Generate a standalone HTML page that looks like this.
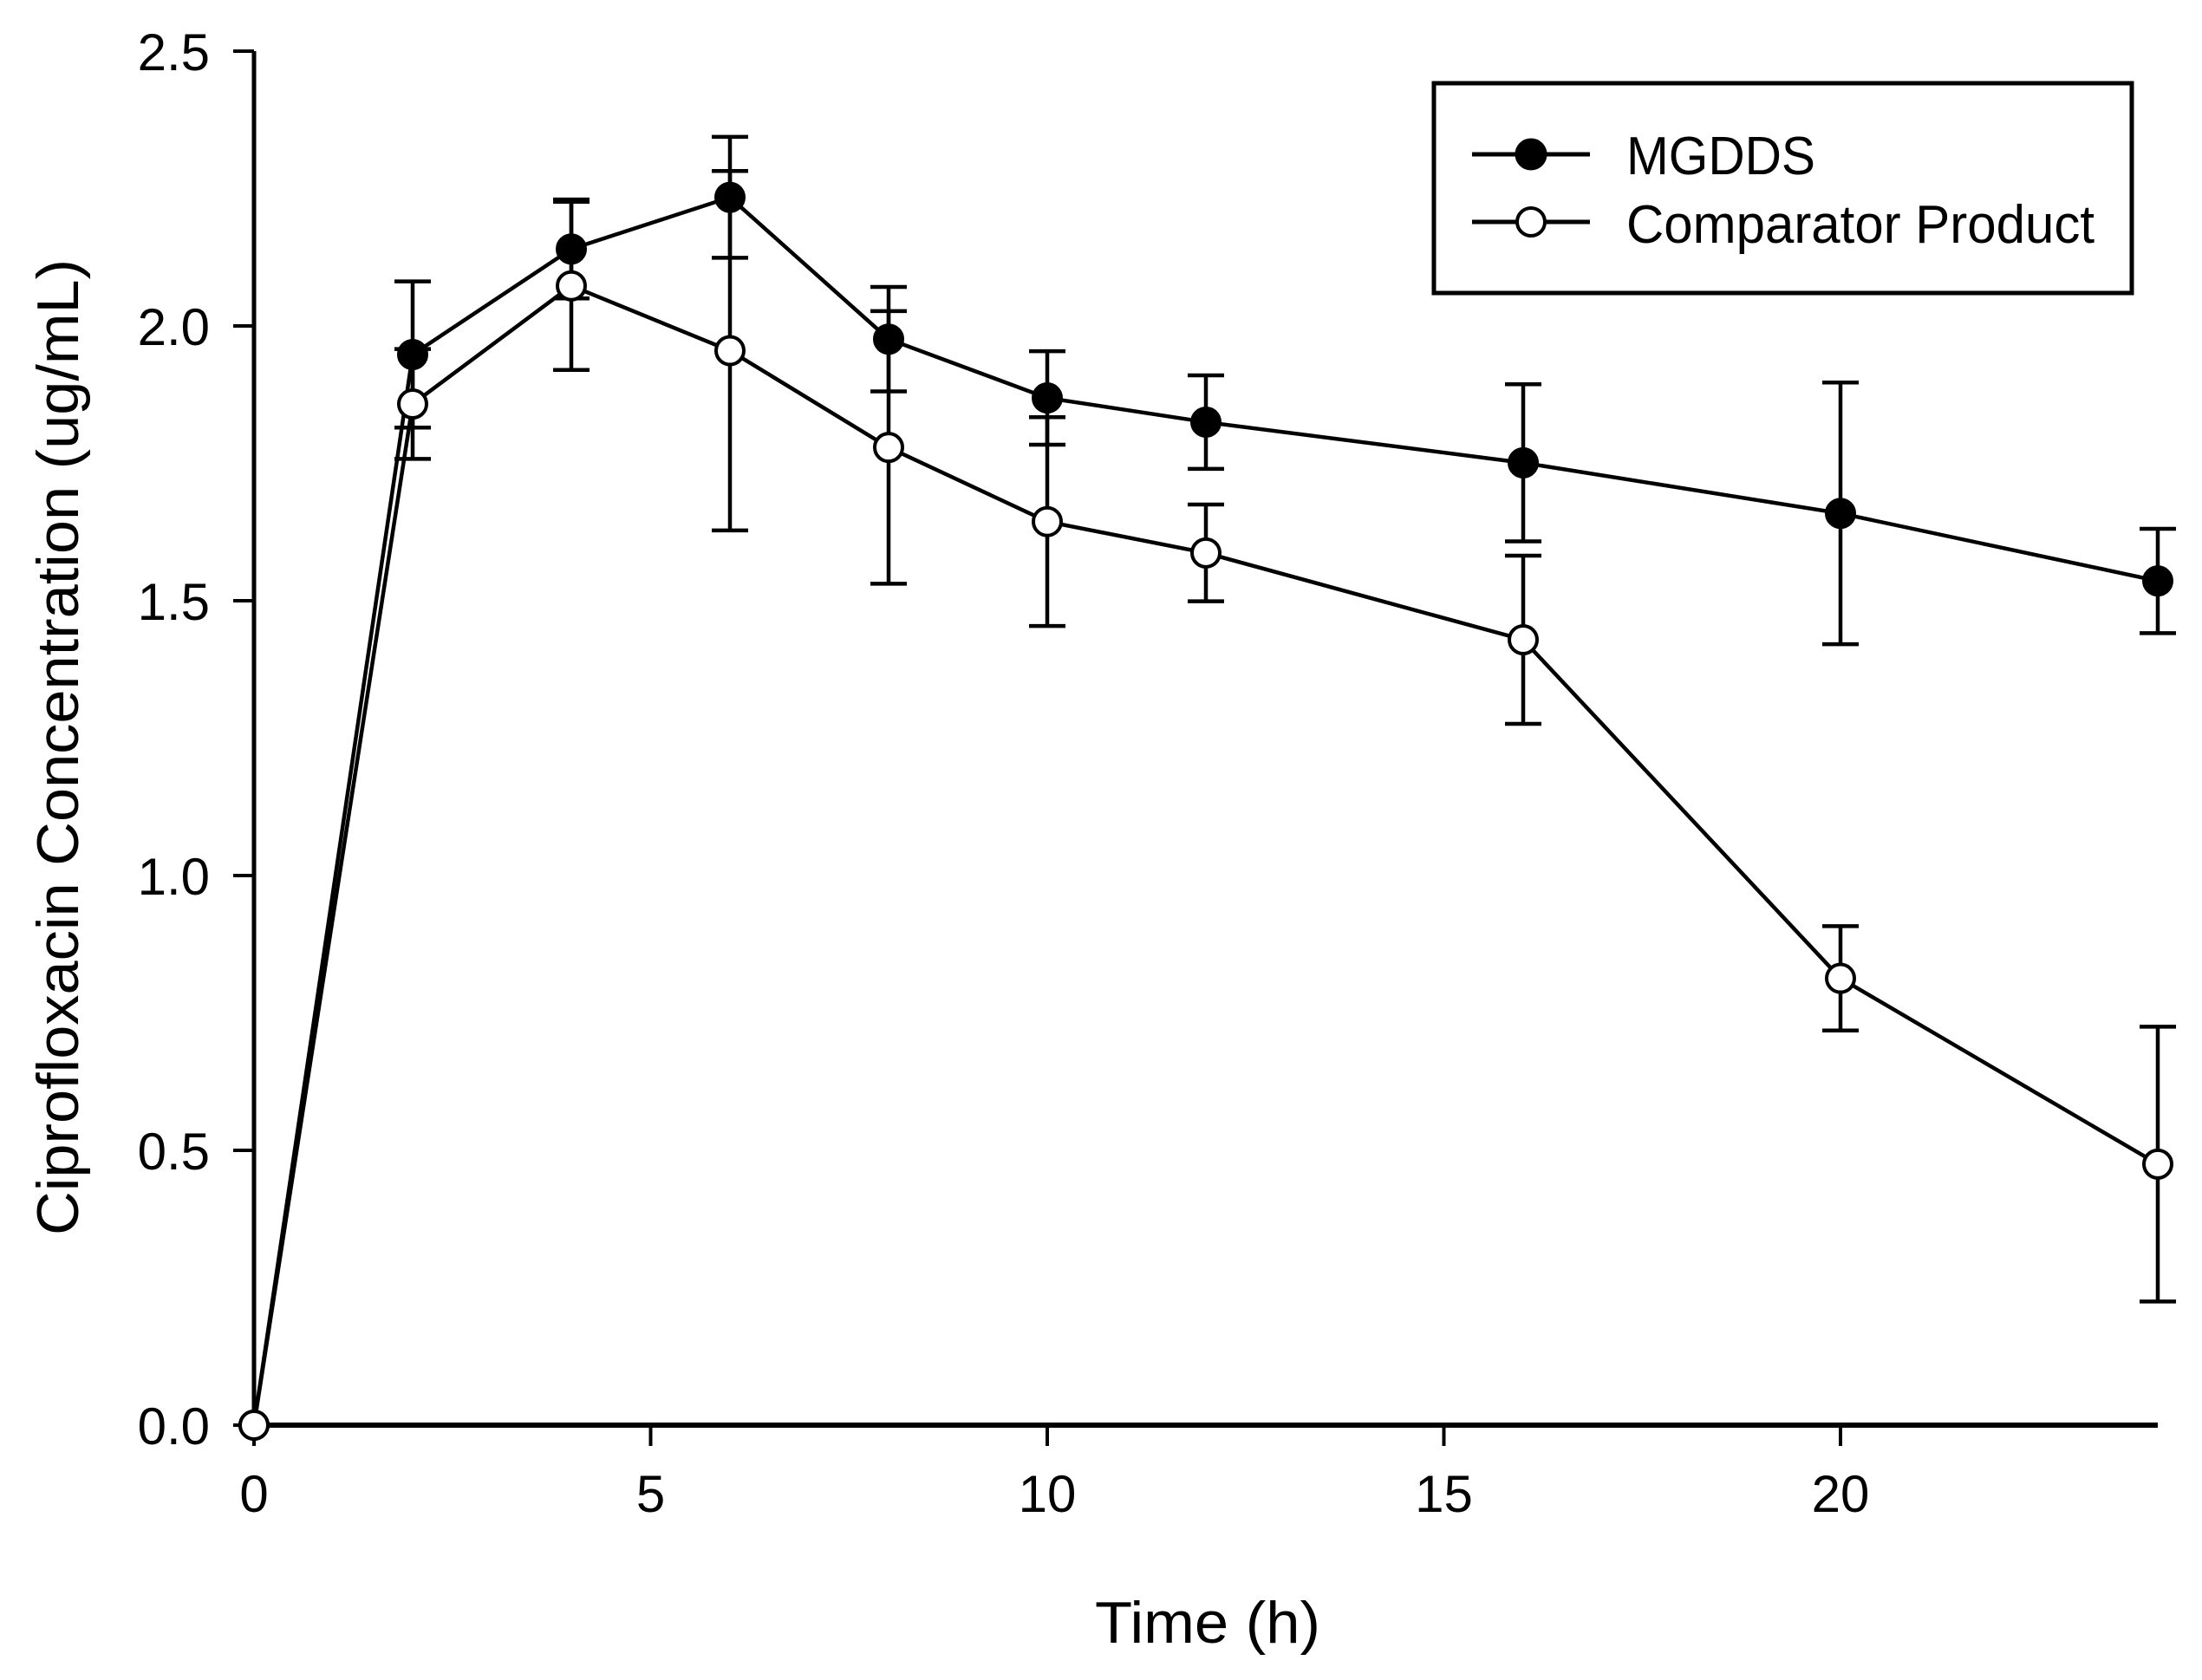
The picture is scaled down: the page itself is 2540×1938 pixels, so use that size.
<!DOCTYPE html>
<html><head><meta charset="utf-8"><style>
html,body{margin:0;padding:0;background:#fff;}
svg{display:block;font-family:"Liberation Sans",Arial,sans-serif;}
</style></head><body>
<svg id="chart" width="2540" height="1938" viewBox="0 0 2540 1938" xmlns="http://www.w3.org/2000/svg">
<rect width="2540" height="1938" fill="#fff"/>
<g id="axes"></g>
<g id="series"></g>
<g id="legend">
 <rect x="1654" y="96" width="805" height="242" fill="#fff" stroke="#000" stroke-width="5"/>
 <g>
  <line x1="1698" y1="178" x2="1834" y2="178" stroke="#000" stroke-width="5"/>
  <circle cx="1766" cy="178" r="17" fill="#000" stroke="#000" stroke-width="3"/>
  <text x="1876" y="201" font-size="62" textLength="218" lengthAdjust="spacingAndGlyphs">MGDDS</text>
 </g>
 <g>
  <line x1="1698" y1="256" x2="1834" y2="256" stroke="#000" stroke-width="5"/>
  <circle cx="1766" cy="256" r="16" fill="#fff" stroke="#000" stroke-width="4"/>
  <text x="1876" y="280" font-size="62" textLength="540" lengthAdjust="spacingAndGlyphs">Comparator Product</text>
 </g>
</g>
</svg>
<script>
const times = [0, 2, 4, 6, 8, 10, 12, 16, 20, 24];
const mgdds = [0, 1.948, 2.14, 2.234, 1.976, 1.869, 1.825, 1.751, 1.659, 1.536];
const mgddsErr = [0, 0.133, 0.09, 0.11, 0.095, 0.085, 0.085, 0.143, 0.238, 0.095];
const comparator = [0, 1.858, 2.073, 1.955, 1.779, 1.644, 1.587, 1.429, 0.813, 0.475];
const comparatorErr = [0, 0.1, 0.153, 0.327, 0.248, 0.19, 0.088, 0.153, 0.095, 0.25];
const xTicks = [0, 5, 10, 15, 20];
const yTicks = [0.0, 0.5, 1.0, 1.5, 2.0, 2.5];

const NS = "http://www.w3.org/2000/svg";
const X0 = 293, XPX = 91.5, Y0 = 1644, YPX = 634;
const xs = v => X0 + v * XPX;
const ys = v => Y0 - v * YPX;
function mk(tag, attrs, parent){ const e = document.createElementNS(NS, tag); for (const k in attrs) e.setAttribute(k, attrs[k]); parent.appendChild(e); return e; }

const axes = document.getElementById('axes');
const xAxis = mk('line', {x1: xs(0), y1: Y0, x2: xs(24), y2: Y0, stroke: '#000', 'stroke-width': 6}, axes);


const yAxis = mk('line', {x1: X0, y1: ys(0) + 2, x2: X0, y2: ys(2.5), stroke: '#000', 'stroke-width': 5}, axes);



xTicks.forEach(t => {
  const l = mk('line', {x1: xs(t), y1: Y0, x2: xs(t), y2: Y0 + 24, stroke: '#000', 'stroke-width': 4}, axes);
  
  
  const tx = mk('text', {x: xs(t), y: Y0 + 100, 'font-size': 60, 'text-anchor': 'middle'}, axes);
  tx.textContent = String(t);
  
  
});
yTicks.forEach(t => {
  const l = mk('line', {x1: X0 - 24, y1: ys(t), x2: X0, y2: ys(t), stroke: '#000', 'stroke-width': 4}, axes);
  
  
  const tx = mk('text', {x: 242, y: ys(t) + 22, 'font-size': 60, 'text-anchor': 'end'}, axes);
  tx.textContent = t.toFixed(1);
  
  
});
const xt = mk('text', {x: 1393, y: 1895, 'font-size': 68, 'text-anchor': 'middle', textLength: 260, lengthAdjust: 'spacingAndGlyphs'}, axes);
xt.textContent = 'Time (h)';


const yt = mk('text', {x: 0, y: 0, 'font-size': 68, 'text-anchor': 'middle', textLength: 1126, lengthAdjust: 'spacingAndGlyphs', transform: 'translate(90,862) rotate(-90)'}, axes);
yt.textContent = 'Ciprofloxacin Concentration (ug/mL)';



const series = document.getElementById('series');
function drawSeries(vals, errs, filled, name){
  const g = mk('g', {}, series);
  
  
  times.forEach((t, i) => {
    if (errs[i] <= 0) return;
    const x = xs(t), top = ys(vals[i] + errs[i]), bot = ys(vals[i] - errs[i]);
    const eb = mk('path', {d: `M${x},${top}V${bot}M${x-21},${top}H${x+21}M${x-21},${bot}H${x+21}`, stroke: '#000', 'stroke-width': 4.5, fill: 'none'}, g);
    
    
  });
  const pl = mk('polyline', {points: times.map((t, i) => xs(t) + ',' + ys(vals[i])).join(' '), fill: 'none', stroke: '#000', 'stroke-width': 4.5}, g);
  
  
  times.forEach((t, i) => {
    const c = mk('circle', {cx: xs(t), cy: ys(vals[i]), r: 16, fill: filled ? '#000' : '#fff', stroke: '#000', 'stroke-width': 4}, g);
    
    
  });
}
drawSeries(mgdds, mgddsErr, true, 'mgdds');
drawSeries(comparator, comparatorErr, false, 'comparator');
</script>
</body></html>
